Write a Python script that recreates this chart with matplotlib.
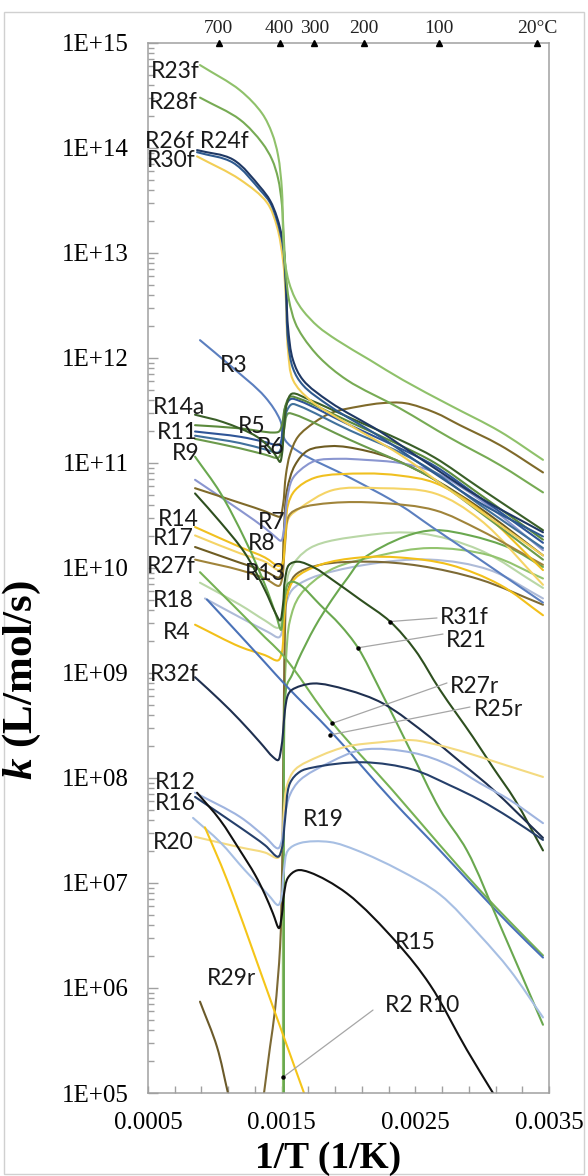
import numpy as np
import matplotlib
matplotlib.use("Agg")
import matplotlib.pyplot as plt
from matplotlib.patches import Rectangle, PathPatch
from matplotlib.path import Path
from matplotlib.ticker import FixedLocator, FixedFormatter, LogLocator, NullFormatter

plt.rcParams['mathtext.fontset'] = 'custom'
plt.rcParams['mathtext.rm'] = 'Liberation Serif:bold'
plt.rcParams['mathtext.it'] = 'Liberation Serif:italic:bold'
plt.rcParams['mathtext.bf'] = 'Liberation Serif:bold'

# ---------------- data: x = 1/T (1/K), values = log10 k (L/mol/s) ----------------
R23f_x = [0.000889, 0.001188, 0.001353, 0.001428, 0.001473, 0.001502, 0.00151, 0.001525, 0.001555, 0.0016, 0.00166, 0.001772, 0.001914, 0.002161, 0.002408, 0.002759, 0.003133, 0.003455]
R23f_k = [14.79, 14.55, 14.33, 14.14, 13.93, 13.60, 13.22, 12.91, 12.72, 12.57, 12.45, 12.30, 12.17, 11.98, 11.79, 11.55, 11.30, 11.03]

R28f_x = [0.000889, 0.001188, 0.001353, 0.001428, 0.001473, 0.001502, 0.001517, 0.001532, 0.001555, 0.0016, 0.00166, 0.001787, 0.001989, 0.002385, 0.002759, 0.003133, 0.003455]
R28f_k = [14.48, 14.27, 14.05, 13.89, 13.71, 13.46, 13.12, 12.79, 12.55, 12.34, 12.20, 12.00, 11.79, 11.52, 11.24, 10.98, 10.72]

R26f_x = [0.000867, 0.001136, 0.001338, 0.001413, 0.001465, 0.00151, 0.001532, 0.001547, 0.001585, 0.00166, 0.001862, 0.002236, 0.00261, 0.002984, 0.003455]
R26f_k = [13.98, 13.89, 13.63, 13.50, 13.34, 13.10, 12.74, 12.30, 11.98, 11.79, 11.58, 11.30, 10.98, 10.67, 10.34]

R24f_x = [0.000867, 0.001136, 0.001338, 0.001413, 0.001465, 0.00151, 0.001532, 0.001547, 0.001585, 0.00166, 0.001862, 0.002236, 0.00261, 0.002984, 0.003455]
R24f_k = [13.96, 13.86, 13.60, 13.48, 13.31, 13.06, 12.65, 12.17, 11.90, 11.74, 11.54, 11.25, 10.93, 10.62, 10.30]

R30f_x = [0.000867, 0.001188, 0.00139, 0.001465, 0.00151, 0.001532, 0.001547, 0.001585, 0.001712, 0.002011, 0.002385, 0.002759, 0.003133, 0.003455]
R30f_k = [13.92, 13.70, 13.48, 13.25, 12.93, 12.55, 12.08, 11.79, 11.60, 11.36, 11.08, 10.74, 10.41, 10.12]

R14a_x = [0.000852, 0.001061, 0.001315, 0.001428, 0.001465, 0.001488, 0.001502, 0.001517, 0.00154, 0.001577, 0.001712, 0.002011, 0.002385, 0.002647, 0.002984, 0.003455]
R14a_k = [11.46, 11.39, 11.25, 11.12, 11.05, 11.01, 11.08, 11.31, 11.57, 11.66, 11.60, 11.43, 11.22, 11.05, 10.76, 10.36]

R5_x = [0.000852, 0.001188, 0.001435, 0.00148, 0.001502, 0.001525, 0.001562, 0.001637, 0.002011, 0.002385, 0.002647, 0.002984, 0.003455]
R5_k = [11.36, 11.33, 11.29, 11.30, 11.36, 11.53, 11.63, 11.61, 11.39, 11.17, 11.00, 10.70, 10.27]

R11_x = [0.000852, 0.001188, 0.001375, 0.001465, 0.001488, 0.00151, 0.001532, 0.00157, 0.001637, 0.002011, 0.002385, 0.002647, 0.002984, 0.003455]
R11_k = [11.30, 11.25, 11.20, 11.17, 11.18, 11.36, 11.55, 11.61, 11.59, 11.36, 11.14, 10.97, 10.67, 10.24]

R6_x = [0.000852, 0.001188, 0.001375, 0.001473, 0.001495, 0.001517, 0.00154, 0.001577, 0.001637, 0.002011, 0.002385, 0.002647, 0.002984, 0.003455]
R6_k = [11.26, 11.19, 11.13, 11.10, 11.14, 11.36, 11.50, 11.56, 11.54, 11.31, 11.10, 10.91, 10.60, 10.19]

R11b_x = [0.000852, 0.001188, 0.001375, 0.001473, 0.001495, 0.001517, 0.001547, 0.0016, 0.002011, 0.002385, 0.002647, 0.002984, 0.003455]
R11b_k = [11.23, 11.14, 11.08, 11.05, 11.10, 11.31, 11.47, 11.46, 11.22, 11.01, 10.84, 10.53, 10.08]

R3_x = [0.000889, 0.001113, 0.001375, 0.001488, 0.001525, 0.001637, 0.002011, 0.002385, 0.002625, 0.002984, 0.003455]
R3_k = [12.17, 11.93, 11.63, 11.41, 11.22, 11.10, 10.86, 10.60, 10.39, 10.08, 9.67]

R7_x = [0.000852, 0.001188, 0.001375, 0.00145, 0.001488, 0.00151, 0.001532, 0.001562, 0.001622, 0.001749, 0.001877, 0.002086, 0.002251, 0.002423, 0.002647, 0.002834, 0.003133, 0.003455]
R7_k = [10.76, 10.62, 10.54, 10.50, 10.49, 10.60, 10.89, 11.08, 11.25, 11.39, 11.48, 11.54, 11.57, 11.57, 11.48, 11.36, 11.17, 10.91]

R8_x = [0.000852, 0.001188, 0.001375, 0.00145, 0.001495, 0.001517, 0.00154, 0.001577, 0.001637, 0.001749, 0.001936, 0.002123, 0.002385, 0.002647, 0.002984, 0.003455]
R8_k = [10.84, 10.55, 10.38, 10.30, 10.26, 10.36, 10.65, 10.84, 10.93, 11.02, 11.04, 11.03, 11.00, 10.91, 10.65, 10.17]

R14_x = [0.000852, 0.001188, 0.001375, 0.001473, 0.001502, 0.001525, 0.001547, 0.0016, 0.001749, 0.002123, 0.002385, 0.002647, 0.002984, 0.003455]
R14_k = [10.39, 10.20, 10.10, 10.02, 10.03, 10.27, 10.60, 10.74, 10.86, 10.90, 10.88, 10.81, 10.55, 9.98]

R17_x = [0.000852, 0.001188, 0.001375, 0.00148, 0.001502, 0.001517, 0.00154, 0.0016, 0.001697, 0.001862, 0.001996, 0.002311, 0.002647, 0.002984, 0.003455]
R17_k = [10.20, 10.05, 9.97, 9.91, 9.98, 10.36, 10.74, 10.98, 11.12, 11.16, 11.15, 11.05, 10.84, 10.57, 10.12]

R27f_x = [0.000852, 0.001188, 0.001375, 0.00148, 0.001502, 0.001525, 0.001555, 0.001637, 0.001877, 0.002236, 0.002647, 0.002984, 0.003455]
R27f_k = [10.08, 9.98, 9.90, 9.83, 9.89, 10.22, 10.50, 10.57, 10.62, 10.62, 10.55, 10.36, 10.03]

Y2_x = [0.000852, 0.001188, 0.001375, 0.00148, 0.001502, 0.001525, 0.001555, 0.001637, 0.001877, 0.002236, 0.002647, 0.002984, 0.003455]
Y2_k = [10.31, 10.14, 10.06, 9.98, 10.02, 10.27, 10.48, 10.57, 10.74, 10.76, 10.71, 10.46, 9.84]

R21_x = [0.000852, 0.001039, 0.001226, 0.001375, 0.001458, 0.001495, 0.00151, 0.001525, 0.001547, 0.001577, 0.001637, 0.001787, 0.001936, 0.002071, 0.002236, 0.00246, 0.002684, 0.002886, 0.003133, 0.003455]
R21_k = [11.06, 10.72, 10.27, 9.84, 9.55, 9.41, 9.55, 9.74, 9.85, 9.87, 9.84, 9.65, 9.46, 9.24, 8.84, 8.27, 7.70, 7.31, 6.60, 5.65]

R31f_x = [0.000852, 0.001039, 0.001226, 0.001375, 0.00145, 0.001488, 0.00151, 0.001525, 0.001555, 0.001622, 0.001749, 0.001877, 0.002086, 0.002311, 0.002497, 0.002684, 0.002931, 0.003081, 0.003246, 0.003455]
R31f_k = [10.71, 10.44, 10.14, 9.79, 9.58, 9.50, 9.65, 9.89, 10.03, 10.06, 10.00, 9.89, 9.70, 9.49, 9.22, 8.84, 8.39, 8.10, 7.79, 7.31]

R4_x = [0.000852, 0.001188, 0.001375, 0.001473, 0.001502, 0.001517, 0.00154, 0.0016, 0.001787, 0.002086, 0.002385, 0.002759, 0.003133, 0.003455]
R4_k = [9.46, 9.25, 9.17, 9.12, 9.20, 9.50, 9.74, 9.90, 10.03, 10.10, 10.10, 10.03, 9.84, 9.55]

R18_x = [0.000889, 0.001188, 0.001375, 0.001473, 0.001502, 0.001525, 0.001562, 0.001712, 0.002123, 0.002535, 0.002984, 0.003455]
R18_k = [9.86, 9.65, 9.50, 9.43, 9.49, 9.70, 9.98, 10.19, 10.31, 10.33, 10.17, 9.81]

R18b_x = [0.000926, 0.001188, 0.001398, 0.00148, 0.00151, 0.001532, 0.001577, 0.001712, 0.002123, 0.00261, 0.003058, 0.003455]
R18b_k = [9.71, 9.53, 9.39, 9.34, 9.43, 9.65, 9.79, 9.90, 10.03, 10.08, 9.98, 9.71]

R25r_x = [0.000941, 0.001188, 0.001375, 0.00154, 0.001877, 0.002325, 0.002684, 0.002984, 0.003208, 0.003455]
R25r_k = [9.70, 9.36, 9.10, 8.87, 8.43, 7.79, 7.31, 6.90, 6.60, 6.29]

R27r_x = [0.000889, 0.001188, 0.001375, 0.001488, 0.001577, 0.001877, 0.002325, 0.002684, 0.002984, 0.003208, 0.003455]
R27r_k = [9.96, 9.58, 9.34, 9.20, 9.06, 8.53, 7.89, 7.36, 6.93, 6.63, 6.31]

R32f_x = [0.000852, 0.001039, 0.001188, 0.001338, 0.001435, 0.001473, 0.001495, 0.00151, 0.001525, 0.001547, 0.001577, 0.001734, 0.001989, 0.002258, 0.00261, 0.002886, 0.003081, 0.003455]
R32f_k = [8.96, 8.74, 8.55, 8.34, 8.20, 8.17, 8.27, 8.43, 8.65, 8.79, 8.84, 8.90, 8.84, 8.71, 8.39, 8.10, 7.89, 7.43]

R20_x = [0.000852, 0.001188, 0.001375, 0.001473, 0.001502, 0.001517, 0.00154, 0.0016, 0.001787, 0.001989, 0.002236, 0.002482, 0.002684, 0.002886, 0.003133, 0.003455]
R20_k = [7.44, 7.34, 7.29, 7.24, 7.36, 7.70, 7.93, 8.08, 8.21, 8.30, 8.34, 8.36, 8.31, 8.24, 8.14, 8.01]

R12_x = [0.000852, 0.001188, 0.001375, 0.001473, 0.001502, 0.001525, 0.001562, 0.001637, 0.001862, 0.002108, 0.002482, 0.002759, 0.002984, 0.003208, 0.003455]
R12_k = [7.86, 7.63, 7.44, 7.33, 7.41, 7.65, 7.84, 7.98, 8.15, 8.27, 8.24, 8.12, 7.95, 7.79, 7.57]

R16_x = [0.000852, 0.001188, 0.001375, 0.001473, 0.001502, 0.001525, 0.001562, 0.001637, 0.001734, 0.002108, 0.002482, 0.002759, 0.002984, 0.003208, 0.003455]
R16_k = [7.82, 7.53, 7.36, 7.25, 7.33, 7.60, 7.95, 8.06, 8.10, 8.15, 8.08, 7.93, 7.79, 7.62, 7.41]

R19_x = [0.000837, 0.001039, 0.001226, 0.001398, 0.001473, 0.001495, 0.001517, 0.001547, 0.001637, 0.001862, 0.002064, 0.002385, 0.002684, 0.002984, 0.003208, 0.003455]
R19_k = [7.62, 7.39, 7.12, 6.89, 6.79, 6.84, 7.12, 7.31, 7.38, 7.39, 7.31, 7.12, 6.89, 6.50, 6.17, 5.72]

R15_x = [0.000867, 0.001039, 0.001188, 0.0013, 0.001375, 0.001435, 0.00148, 0.001502, 0.001517, 0.001547, 0.001615, 0.001712, 0.001989, 0.002363, 0.00261, 0.002886, 0.003081]
R15_k = [7.86, 7.60, 7.31, 7.08, 6.89, 6.71, 6.57, 6.70, 6.89, 7.05, 7.12, 7.10, 6.90, 6.43, 6.03, 5.41, 5.00]

R29r_x = [0.000926, 0.001091, 0.001435, 0.001667]
R29r_k = [7.53, 7.03, 5.82, 5.00]

R29b_x = [0.000889, 0.001016, 0.001098]
R29b_k = [5.87, 5.44, 5.00]

Rbr_x = [0.001368, 0.001413, 0.00145, 0.001488, 0.001502, 0.00151, 0.001517, 0.001525, 0.00154, 0.0016, 0.001787, 0.002161, 0.002535, 0.002984, 0.003455]
Rbr_k = [5.00, 5.44, 5.79, 6.39, 7.03, 7.79, 8.74, 9.41, 9.74, 9.93, 10.03, 10.06, 10.02, 9.89, 9.65]

R2_x = [0.001517, 0.001517, 0.001517, 0.001525, 0.00154, 0.001577, 0.001622, 0.001749, 0.001877, 0.001996, 0.002101, 0.002423, 0.002647, 0.002909, 0.003208, 0.003455]
R2_k = [5.00, 6.84, 8.17, 8.74, 8.89, 8.98, 9.12, 9.44, 9.70, 9.91, 10.08, 10.30, 10.36, 10.31, 10.19, 10.01]

R10_x = [0.00151, 0.00151, 0.001517, 0.001532, 0.001562, 0.001637, 0.001862, 0.002236, 0.00261, 0.003058, 0.003455]
R10_k = [5.00, 7.31, 8.55, 9.12, 9.50, 9.74, 9.98, 10.12, 10.19, 10.12, 9.90]

# leader targets (points on curves)
leader_names = ["R31f", "R21", "R27r", "R25r", "R2 R10"]
leader_x = [0.002311, 0.002071, 0.001877, 0.001862, 0.00151]
leader_k = [9.49, 9.24, 8.52, 8.41, 5.15]

# top axis temperatures (deg C)
top_temps = [700, 400, 300, 200, 100, 20]
top_labels = ["700", "400", "300", "200", "100", "20°C"]

y_decades = list(range(5, 16))
y_labels = ["1E+%02d" % d for d in y_decades]

# ---------------- styles ----------------
series = [
    (R18b_x, R18b_k, '#aebbd8'),
    (R18_x, R18_k, '#b9d7a6'),
    (R10_x, R10_k, '#93c46f'),
    (Rbr_x, Rbr_k, '#7d6a35'),
    (R2_x, R2_k, '#6aa84f'),
    (R4_x, R4_k, '#f2c01a'),
    (R3_x, R3_k, '#5b7fbf'),
    (Y2_x, Y2_k, '#f5d466'),
    (R27f_x, R27f_k, '#a0843a'),
    (R17_x, R17_k, '#6e5c22'),
    (R14_x, R14_k, '#f0c020'),
    (R8_x, R8_k, '#8a96d0'),
    (R7_x, R7_k, '#7f6a2a'),
    (R11b_x, R11b_k, '#6b9a4b'),
    (R6_x, R6_k, '#41719c'),
    (R11_x, R11_k, '#2f5597'),
    (R5_x, R5_k, '#5b8a3c'),
    (R14a_x, R14a_k, '#3a5f28'),
    (R30f_x, R30f_k, '#f2ce55'),
    (R24f_x, R24f_k, '#2e5a8f'),
    (R26f_x, R26f_k, '#1f3864'),
    (R28f_x, R28f_k, '#77ab54'),
    (R23f_x, R23f_k, '#8fc16a'),
    (R27r_x, R27r_k, '#77b255'),
    (R25r_x, R25r_k, '#4a72b8'),
    (R21_x, R21_k, '#6aa84f'),
    (R31f_x, R31f_k, '#2e4f1f'),
    (R32f_x, R32f_k, '#1f3050'),
    (R20_x, R20_k, '#f4da80'),
    (R12_x, R12_k, '#9fb4df'),
    (R16_x, R16_k, '#253f6a'),
    (R19_x, R19_k, '#a7bfe3'),
    (R29b_x, R29b_k, '#6b5a2a'),
    (R29r_x, R29r_k, '#f5c518'),
    (R15_x, R15_k, '#111111'),
]

# label positions (axes fraction) -- layout only
plain_labels = [
    ("R23f", 0.0075, 0.9724), ("R28f", 0.0025, 0.9429), ("R26f R24f", -0.0075, 0.9065),
    ("R30f", -0.0025, 0.8878), ("R3", 0.1796, 0.6933), ("R14a", 0.0125, 0.6533),
    ("R5", 0.2244, 0.6343), ("R11", 0.0224, 0.6290), ("R6", 0.2718, 0.6152),
    ("R9", 0.0599, 0.6088), ("R14", 0.0249, 0.5465), ("R7", 0.2743, 0.5438),
    ("R17", 0.0125, 0.5278), ("R8", 0.2494, 0.5238), ("R27f", -0.0025, 0.5010),
    ("R13", 0.2419, 0.4952), ("R18", 0.0125, 0.4695), ("R4", 0.0374, 0.4390),
    ("R32f", 0.005, 0.3981), ("R12", 0.0175, 0.2958), ("R16", 0.0175, 0.2760),
    ("R20", 0.0125, 0.2381), ("R19", 0.3865, 0.2600), ("R15", 0.616, 0.1438),
    ("R29r", 0.1471, 0.1086),
]
leader_text_pos = [(0.7282, 0.4533), (0.7431, 0.4314), (0.7531, 0.3867), (0.8130, 0.3648), (0.5910, 0.0838)]
leader_start_pos = [(0.7207, 0.4524), (0.7357, 0.4371), (0.7456, 0.3905), (0.8030, 0.3676), (0.5611, 0.0790)]

W, H = 588, 1176
fig = plt.figure(figsize=(W / 100, H / 100), dpi=100)
ax = fig.add_axes([148 / W, 1 - 1093 / H, 401 / W, 1050 / H])
ax.set_yscale('log')
ax.set_xlim(0.0005, 0.0035)
ax.set_ylim(1e5, 1e15)

# smoothed (Excel-like) line through the read points, drawn as Bezier path by matplotlib
SX = 401 / 0.003   # screen scale used only for the smoothing geometry
SY = 105.0


def smooth_path(xs, lks):
    P = np.column_stack([np.asarray(xs) * SX, np.asarray(lks) * SY])
    n = len(P)
    verts = [P[0]]
    codes = [Path.MOVETO]
    for i in range(n - 1):
        p1, p2 = P[i], P[i + 1]
        p0 = P[i - 1] if i > 0 else 2 * p1 - p2
        p3 = P[i + 2] if i + 2 < n else 2 * p2 - p1
        a1 = max(np.hypot(*(p1 - p0)), 1e-6) ** 0.5
        a2 = max(np.hypot(*(p2 - p1)), 1e-6) ** 0.5
        a3 = max(np.hypot(*(p3 - p2)), 1e-6) ** 0.5
        b1 = (a1 ** 2 * p2 - a2 ** 2 * p0 + (2 * a1 ** 2 + 3 * a1 * a2 + a2 ** 2) * p1) / (3 * a1 * (a1 + a2))
        b2 = (a3 ** 2 * p1 - a2 ** 2 * p3 + (2 * a3 ** 2 + 3 * a3 * a2 + a2 ** 2) * p2) / (3 * a3 * (a3 + a2))
        verts += [b1, b2, p2]
        codes += [Path.CURVE4] * 3
    V = np.array(verts)
    V[:, 0] = V[:, 0] / SX
    V[:, 1] = 10.0 ** (V[:, 1] / SY)
    return Path(V, codes)


for xs, ks, c in series:
    ax.add_patch(PathPatch(smooth_path(xs, ks), facecolor='none', edgecolor=c, lw=1.5,
                           capstyle='round', joinstyle='round', zorder=2))

serif = 'Liberation Serif'
lab_font = dict(family=['Lato', 'DejaVu Sans'], fontsize=16.5, color='#1a1a1a')

ax.yaxis.set_major_locator(FixedLocator([10.0 ** d for d in y_decades]))
ax.yaxis.set_major_formatter(FixedFormatter(y_labels))
ax.yaxis.set_minor_locator(LogLocator(base=10, subs=np.arange(2, 10), numticks=50))
ax.yaxis.set_minor_formatter(NullFormatter())

xt = np.round(np.arange(0.0005, 0.00351, 0.0002), 6)
xt_labels = ["%.4f" % v if round((v - 0.0005) / 0.001, 6) % 1 == 0 else "" for v in xt]
ax.set_xticks(xt)
ax.set_xticklabels(xt_labels)

ax.tick_params(axis='both', which='both', direction='in', color='#a0a0a0', width=1)
ax.tick_params(axis='y', which='major', length=7, pad=14, labelsize=18)
ax.tick_params(axis='y', which='minor', length=4)
ax.tick_params(axis='x', which='major', length=5, pad=14, labelsize=18)
for lab in ax.get_xticklabels() + ax.get_yticklabels():
    lab.set_fontfamily(serif)
for s in ax.spines.values():
    s.set_color('#a0a0a0')
    s.set_linewidth(1.1)

# top temperature markers
tpos = [1.0 / (t + 273.15) for t in top_temps]
ax.plot(tpos, [1.0] * len(tpos), linestyle='none', marker='^', color='black', markersize=5,
        transform=ax.get_xaxis_transform(), clip_on=False, zorder=5)
for p, l in zip(tpos, top_labels):
    ax.text(p, 1.006, l, transform=ax.get_xaxis_transform(), ha='center', va='bottom',
            fontsize=14, family=serif, color='#222222')

# curve labels
for name, fx, fy in plain_labels:
    ax.text(fx, fy, name, transform=ax.transAxes, ha='left', va='center', zorder=6, **lab_font)

for name, lx, lk, tp, sp in zip(leader_names, leader_x, leader_k, leader_text_pos, leader_start_pos):
    ax.annotate('', xy=(lx, 10.0 ** lk), xycoords='data', xytext=sp, textcoords='axes fraction',
                arrowprops=dict(arrowstyle='-', color='#a6a6a6', lw=0.9, shrinkA=0, shrinkB=0), zorder=4)
    ax.plot([lx], [10.0 ** lk], marker='o', color='black', markersize=2.2, zorder=5)
    ax.text(tp[0], tp[1], name, transform=ax.transAxes, ha='left', va='center', zorder=6, **lab_font)

# axis titles
fig.text(22 / W, 1 - 680 / H, r'$\it{k}$ (L/mol/s)', rotation=90, ha='center', va='center',
         fontsize=31, family=serif, fontweight='bold')
fig.text(328 / W, 1 - 1158 / H, '1/T (1/K)', ha='center', va='center',
         fontsize=27, family=serif, fontweight='bold')

# chart-area border
fig.patches.append(Rectangle((4 / W, 1 - 1174 / H), 580 / W, 1162 / H, transform=fig.transFigure,
                             fill=False, edgecolor='#d0d0d0', lw=1))

fig.savefig('out.png', dpi=100)
